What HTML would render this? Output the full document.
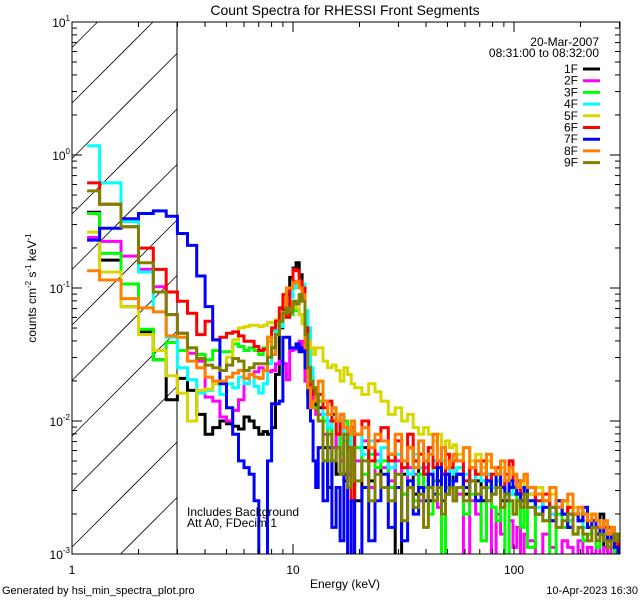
<!DOCTYPE html>
<html><head><meta charset="utf-8"><style>
html,body{margin:0;padding:0;background:#fff;width:640px;height:600px;overflow:hidden;}
svg{display:block;font-family:"Liberation Sans",sans-serif;overflow:hidden;}
</style></head><body>
<svg id="chart" width="640" height="600" viewBox="0 0 640 600" xmlns="http://www.w3.org/2000/svg">
<defs><clipPath id="pc"><rect x="72" y="22" width="548" height="532"/></clipPath></defs>
<rect width="640" height="600" fill="#fff"/>
<text x="345" y="15" font-size="14" text-anchor="middle">Count Spectra for RHESSI Front Segments</text>
<g id="hatch"></g>
<line x1="177" y1="22" x2="177" y2="554" stroke="#000" stroke-width="1"/>
<g id="series" clip-path="url(#pc)"></g>
<rect x="72" y="22" width="548" height="532" fill="none" stroke="#000" stroke-width="1"/>
<g id="axes"></g>
<g id="legend" font-size="12" text-anchor="end">
<text x="599" y="46">20-Mar-2007</text>
<text x="599" y="57">08:31:00 to 08:32:00</text>
</g>
<text x="187" y="516" font-size="12">Includes Background</text>
<text x="187" y="527" font-size="12">Att A0, FDecim 1</text>
<text x="345" y="588" font-size="12" text-anchor="middle">Energy (keV)</text>
<text transform="translate(36,288) rotate(-90)" font-size="12" text-anchor="middle">counts cm<tspan font-size="8" dy="-5">-2</tspan><tspan dy="5"> s</tspan><tspan font-size="8" dy="-5">-1</tspan><tspan dy="5"> keV</tspan><tspan font-size="8" dy="-5">-1</tspan></text>
<text x="2" y="594" font-size="11">Generated by hsi_min_spectra_plot.pro</text>
<text x="638" y="594" font-size="11" text-anchor="end">10-Apr-2023 16:30</text>
</svg>
<script>
const edges = [1.17,1.333,1.667,2,2.333,2.667,3,3.333,3.667,4,4.333,4.667,5,5.333,5.667,6,6.333,6.667,7,7.333,7.667,8,8.333,8.667,9,9.333,9.667,10,10.333,10.667,11,11.333,11.667,12,12.333,12.667,13,
13.667,14.333,15,15.667,16.333,17,17.667,18.333,19,20.5,22,23.5,25,
27,29,31,33,35,37,39,41,43,45,47,49,51,53,55,
59,63,67,71,75,79,83,87,91,95,99,103,107,111,115,
125,135,145,155,165,175,185,195,205,215,225,235,245,255,265,275,285,295,305];
const segNames = ["1F","2F","3F","4F","5F","6F","7F","8F","9F"];
const segColors = ["#000000","#ff00ff","#00ff00","#00ffff","#d8d800","#ff0000","#0000ff","#ff8000","#808000"];
const log1F = [-0.43,-0.79,-1.14,-1.33,-1.54,-1.84,-1.68,-1.77,-1.95,-2.1,-2.05,-2.0,-2.02,-2.04,-2.06,-1.97,-2.0,-2.05,-2.1,-2.08,-2.1,-2.05,-1.65,-1.3,-1.17,-1.05,-0.92,-0.85,-0.81,-0.9,-1.05,-1.4,-1.8,-1.75,-1.85,-1.9,
-1.9,-2.2,-2.5,-1.95,-2.4,-2.0,-2.45,-2.1,-2.05,-2.6,-2.2,-2.45,-2.3,-2.5,-2.25,-3.05,-2.4,-2.2,-2.55,-2.35,-2.4,-2.6,-2.3,-2.45,-2.4,-2.55,-2.35,-2.45,-2.4,-2.55,-2.35,-2.45,-2.6,-2.4,-2.5,-2.45,-2.6,-2.45,-2.5,-2.55,-2.45,-2.6,-2.5,-2.55,-2.7,-2.6,-2.75,-2.65,-2.6,-2.8,-2.7,-2.75,-2.65,-2.8,-2.75,-2.85,-2.7,-2.95,-2.8,-2.9,-2.85,-2.95];
const log2F = [-0.62,-0.65,-0.76,-0.86,-0.99,-1.2,-1.34,-1.49,-1.55,-1.82,-1.85,-1.97,-2.0,-1.92,-1.84,-1.72,-1.65,-1.63,-1.6,-1.62,-1.63,-1.62,-1.57,-1.55,-1.57,-1.69,-1.47,-1.46,-1.45,-1.4,-1.45,-1.7,-1.75,-1.8,-1.9,-1.95,
-1.95,-2.1,-2.0,-2.2,-2.1,-2.3,-2.05,-2.4,-2.2,-2.3,-2.15,-2.5,-2.25,-2.35,-2.45,-2.3,-2.55,-2.35,-2.4,-2.6,-2.35,-2.5,-2.45,-2.65,-2.4,-2.55,-2.5,-2.6,-2.55,-3.1,-2.6,-2.7,-2.9,-2.6,-3.1,-2.7,-2.85,-3.1,-2.75,-2.95,-2.8,-3.1,-2.85,-2.9,-3.1,-2.85,-2.95,-3.1,-2.9,-2.95,-3.05,-2.9,-3.1,-2.95,-3.0,-2.9,-3.05,-2.95,-3.0,-2.95,-3.05,-3.0];
const log3F = [-0.44,-0.74,-0.97,-1.31,-1.54,-1.41,-1.47,-1.45,-1.5,-1.54,-1.47,-1.48,-1.48,-1.42,-1.44,-1.47,-1.45,-1.47,-1.5,-1.45,-1.4,-1.32,-1.28,-1.2,-1.2,-1.22,-1.2,-1.15,-1.17,-1.2,-1.25,-1.5,-1.8,-1.85,-1.9,-1.9,
-1.85,-2.0,-2.3,-2.0,-2.1,-2.25,-2.0,-2.35,-2.1,-2.2,-2.4,-2.25,-2.35,-2.3,-2.5,-2.4,-2.55,-2.45,-2.6,-2.4,-2.5,-2.7,-2.45,-2.55,-3.1,-2.5,-2.45,-2.6,-2.5,-2.7,-2.55,-2.6,-2.9,-2.5,-2.65,-2.75,-2.5,-3.05,-2.6,-2.7,-2.55,-2.8,-2.6,-2.95,-2.7,-2.75,-3.05,-2.7,-2.8,-2.75,-2.85,-2.8,-2.9,-2.85,-2.8,-2.95,-2.85,-2.9,-2.95,-2.9,-3.0,-2.95];
const log4F = [0.07,-0.21,-0.5,-0.88,-1.18,-1.37,-1.6,-1.69,-1.79,-1.77,-1.72,-1.8,-1.72,-1.75,-1.67,-1.72,-1.65,-1.74,-1.79,-1.72,-1.57,-1.44,-1.32,-1.29,-1.22,-1.12,-1.07,-1.0,-0.96,-0.95,-0.97,-1.17,-1.3,-1.6,-1.75,-1.8,
-1.8,-1.95,-2.05,-1.9,-2.1,-2.0,-2.15,-2.05,-2.2,-2.1,-2.25,-2.15,-2.3,-2.2,-2.35,-2.25,-2.3,-2.4,-2.25,-2.35,-2.3,-2.4,-2.3,-2.35,-2.3,-2.4,-2.35,-2.4,-2.35,-2.4,-2.45,-2.4,-2.45,-2.4,-2.5,-2.45,-2.5,-2.45,-2.55,-2.5,-2.55,-2.5,-2.6,-2.6,-2.65,-2.6,-2.7,-2.65,-2.7,-2.75,-2.7,-2.75,-2.8,-2.75,-2.8,-2.85,-2.8,-2.85,-2.9,-2.85,-2.9,-2.9];
const log5F = [-0.58,-0.88,-1.14,-1.35,-1.47,-1.66,-1.79,-2.0,-1.77,-1.76,-1.72,-1.62,-1.52,-1.39,-1.3,-1.29,-1.28,-1.28,-1.29,-1.28,-1.26,-1.26,-1.24,-1.22,-1.2,-1.15,-1.13,-1.1,-1.15,-1.2,-1.27,-1.38,-1.4,-1.45,-1.5,-1.45,
-1.45,-1.55,-1.6,-1.58,-1.62,-1.7,-1.6,-1.65,-1.72,-1.75,-1.8,-1.72,-1.78,-1.85,-1.95,-1.9,-2.0,-1.95,-2.05,-2.1,-2.05,-2.1,-2.15,-2.1,-2.2,-2.15,-2.2,-2.18,-2.25,-2.2,-2.3,-2.25,-2.35,-2.3,-2.35,-2.4,-2.35,-2.4,-2.45,-2.4,-2.5,-2.45,-2.5,-2.55,-2.5,-2.6,-2.55,-2.65,-2.6,-2.7,-2.65,-2.7,-2.75,-2.7,-2.8,-2.75,-2.85,-2.8,-2.9,-2.85,-2.95,-2.9];
const log6F = [-0.21,-0.37,-0.54,-0.7,-0.86,-1.03,-1.1,-1.19,-1.35,-1.25,-1.39,-1.37,-1.34,-1.33,-1.36,-1.4,-1.4,-1.44,-1.47,-1.46,-1.37,-1.3,-1.25,-1.15,-1.05,-1.22,-1.0,-0.86,-0.87,-0.95,-1.0,-1.3,-1.6,-1.75,-1.8,-1.85,
-1.8,-1.9,-1.85,-2.0,-2.1,-1.95,-2.05,-2.2,-3.05,-2.1,-2.0,-2.3,-2.15,-2.05,-2.3,-2.15,-2.35,-2.1,-2.3,-2.25,-2.4,-2.2,-2.35,-2.3,-2.4,-2.25,-2.35,-2.3,-2.3,-2.45,-2.35,-2.4,-2.3,-2.45,-2.4,-2.35,-2.5,-2.4,-2.3,-2.5,-2.45,-2.55,-2.5,-2.5,-2.6,-2.55,-2.65,-2.6,-2.7,-2.65,-2.7,-2.75,-2.7,-2.8,-2.75,-2.8,-2.85,-2.8,-2.9,-2.85,-2.9,-2.95];
const log7F = [-0.64,-0.55,-0.48,-0.44,-0.42,-0.46,-0.59,-0.68,-0.91,-1.14,-1.39,-1.72,-1.9,-2.1,-2.3,-2.35,-2.4,-2.6,-3.5,-3.5,-2.3,-1.87,-1.87,-1.85,-1.37,-1.37,-1.45,-1.45,-1.42,-1.48,-1.45,-1.6,-1.9,-2.0,-2.3,-2.5,
-2.2,-2.6,-2.2,-2.8,-2.5,-2.9,-2.4,-3.1,-2.6,-3.05,-2.5,-2.9,-2.6,-2.4,-2.8,-2.5,-2.9,-2.45,-2.7,-2.5,-2.6,-2.4,-2.55,-2.35,-2.6,-2.4,-2.5,-2.45,-2.4,-2.5,-2.45,-2.6,-2.5,-2.45,-2.55,-2.4,-2.5,-2.6,-2.45,-2.5,-2.55,-2.6,-2.5,-2.6,-2.7,-2.65,-2.75,-2.6,-2.7,-2.8,-2.7,-2.75,-2.65,-2.8,-2.75,-2.85,-2.8,-2.9,-2.85,-2.9,-2.95,-3.05];
const log8F = [-0.87,-0.94,-1.08,-1.15,-1.18,-1.36,-1.37,-1.55,-1.6,-1.67,-1.7,-1.7,-1.67,-1.64,-1.62,-1.68,-1.65,-1.67,-1.68,-1.62,-1.37,-1.5,-1.35,-1.25,-1.18,-1.0,-1.0,-0.96,-0.95,-1.0,-1.05,-1.45,-1.75,-1.9,-1.85,-1.8,
-1.7,-1.85,-1.95,-1.9,-2.0,-1.95,-2.05,-2.1,-2.0,-2.1,-2.05,-2.2,-2.1,-2.15,-2.25,-2.1,-2.3,-2.2,-2.35,-2.15,-2.3,-2.25,-2.1,-2.3,-2.2,-2.35,-2.3,-2.25,-2.3,-2.2,-2.35,-2.3,-2.4,-2.25,-2.35,-2.4,-2.3,-2.45,-2.35,-2.4,-2.5,-2.45,-2.4,-2.5,-2.55,-2.6,-2.5,-2.65,-2.6,-2.55,-2.7,-2.65,-2.7,-2.75,-2.7,-2.75,-2.8,-2.75,-2.85,-2.8,-2.85,-2.9];
const log9F = [-0.27,-0.37,-0.54,-0.81,-1.03,-1.2,-1.34,-1.45,-1.53,-1.58,-1.6,-1.62,-1.58,-1.53,-1.55,-1.62,-1.6,-1.57,-1.57,-1.57,-1.52,-1.45,-1.35,-1.25,-1.19,-1.15,-1.18,-1.1,-1.12,-1.05,-1.1,-1.35,-1.6,-1.7,-1.75,-1.8,
-2.0,-2.3,-2.1,-2.3,-2.2,-2.4,-2.1,-2.5,-2.2,-2.45,-2.3,-2.6,-2.4,-2.5,-2.6,-2.4,-2.75,-2.5,-2.65,-2.55,-2.8,-2.5,-2.6,-2.5,-2.7,-2.55,-2.5,-2.6,-2.5,-2.6,-2.45,-2.55,-2.5,-2.6,-2.55,-2.5,-2.65,-2.55,-2.6,-2.7,-2.6,-2.65,-2.55,-2.65,-2.7,-2.75,-2.65,-2.8,-2.75,-2.7,-2.85,-2.8,-2.85,-2.9,-2.8,-2.9,-2.85,-2.9,-2.95,-2.9,-2.85,-2.9];
const seriesLogs = [log1F,log2F,log3F,log4F,log5F,log6F,log7F,log8F,log9F];
const xTickMajor = [1,10,100];
const xTickLabels = ["1","10","100"];
const yTickExp = [1,0,-1,-2,-3];

const NS="http://www.w3.org/2000/svg";
const X0=72,X1=620,Y0=22,Y1=554, EMIN=1, EMAX=Math.pow(10,(X1-X0)/221);
const YMAXL=1, YMINL=-3;
function xs(e){return X0+(Math.log10(e)-Math.log10(EMIN))/(Math.log10(EMAX)-Math.log10(EMIN))*(X1-X0);}
function ysl(l){return Y0+(YMAXL-l)/(YMAXL-YMINL)*(Y1-Y0);}
function mk(t,a,p){const e=document.createElementNS(NS,t);for(const k in a)e.setAttribute(k,a[k]);(p||document.getElementById('chart')).appendChild(e);return e;}

// hatch lines: y = c - (x - 72), clipped to [72,177]x[22,554]
const hg=document.getElementById('hatch');
for(let c=-8;c<700;c+=55.5){
  const xa=Math.max(72,72+c-554), xb=Math.min(177,72+c-22);
  if(xb<=xa) continue;
  const h=mk('line',{x1:xa,y1:c-(xa-72),x2:xb,y2:c-(xb-72),stroke:'#000','stroke-width':0.8},hg);
  
  
}

const sg=document.getElementById('series');
seriesLogs.forEach((arr,si)=>{
  const n=Math.min(arr.length,edges.length-1);
  let d='';
  for(let i=0;i<n;i++){
    const y=Math.min(ysl(arr[i]),Y1+2);
    d+=(i===0?'M':'L')+xs(edges[i]).toFixed(1)+','+y.toFixed(1)+'L'+xs(edges[i+1]).toFixed(1)+','+y.toFixed(1);
  }
  const p=mk('path',{d:d,fill:'none',stroke:segColors[si],'stroke-width':3,'stroke-linejoin':'miter'},sg);
  
  
});

const ag=document.getElementById('axes');
function tick(x1,y1,x2,y2,name){const t=mk('line',{x1,y1,x2,y2,stroke:'#000','stroke-width':1},ag);}
for(let dec=1;dec<=100;dec*=10){
  for(let m=1;m<=9;m++){
    const e=dec*m; if(e>EMAX) break;
    const x=xs(e); const L=(m===1)?10:5;
    tick(x,Y1,x,Y1-L,'x-tick');
    tick(x,Y0,x,Y0+L,'x-tick-top');
  }
}
xTickMajor.forEach((v,i)=>{
  const t=mk('text',{x:xs(v),y:574,'font-size':12,'text-anchor':'middle'},ag);
  t.textContent=xTickLabels[i];
  
  
});
for(let ex=-3;ex<1;ex++){
  for(let m=1;m<=9;m++){
    const y=ysl(ex+Math.log10(m)); const L=(m===1)?10:5;
    tick(X0,y,X0+L,y,'y-tick');
    tick(X1,y,X1-L,y,'y-tick-right');
  }
}
tick(X0,ysl(1),X0+10,ysl(1),'y-tick');
tick(X1,ysl(1),X1-10,ysl(1),'y-tick-right');
yTickExp.forEach(ex=>{
  const t=mk('text',{x:70,y:ysl(ex)+5,'font-size':12,'text-anchor':'end'},ag);
  
  
  t.appendChild(document.createTextNode('10'));
  const s=document.createElementNS(NS,'tspan');s.setAttribute('font-size','8');s.setAttribute('dy','-6');s.textContent=String(ex);t.appendChild(s);
});

const lg=document.getElementById('legend');
segNames.forEach((nm,i)=>{
  const y=69+i*11.7;
  const t=mk('text',{x:578,y:y+4},lg);
  t.textContent=nm;
  
  
  const l=mk('line',{x1:583,y1:y,x2:600,y2:y,stroke:segColors[i],'stroke-width':3},lg);
  
  
});
</script>
</body></html>
